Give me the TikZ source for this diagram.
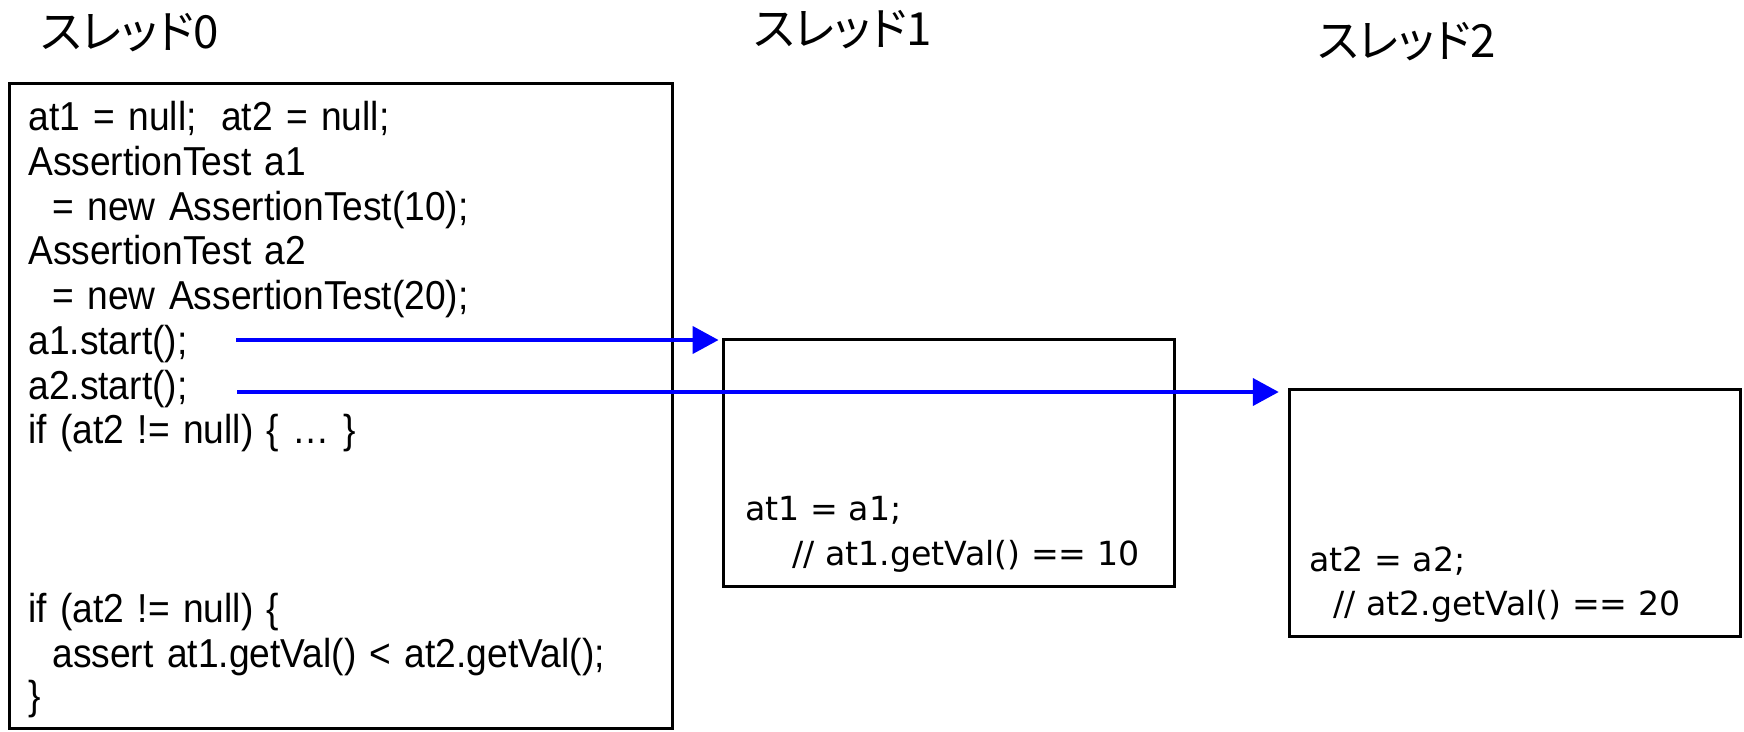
\documentclass[tikz,border=0pt]{standalone}
\usepackage{fontspec}
\setmainfont{Liberation Sans}
\newfontfamily\codefont[FakeStretch=0.92, WordSpace=1.3]{Liberation Sans}
\newfontfamily\widefont{DejaVu Sans}
\newfontfamily\jpfont[RawFeature=+palt]{Noto Sans CJK JP}
\usetikzlibrary{arrows.meta,positioning}
\definecolor{callblue}{RGB}{0,0,255}

\begin{document}
\begin{tikzpicture}[
    x=0.02cm, y=-0.02cm,
    threadbox/.style={rectangle, draw=black, line width=1.7pt, inner sep=0pt},
    title/.style={font=\jpfont\fontsize{26}{30}\selectfont, anchor=west, inner sep=0pt},
    codeline/.style={font=\codefont\fontsize{23}{27}\selectfont, anchor=base west, inner sep=0pt},
    workline/.style={font=\widefont\fontsize{18.9}{22}\selectfont, anchor=base west, inner sep=0pt},
    callarrow/.style={-{Triangle[length=14.8pt, width=15.4pt]}, line width=2.3pt, color=callblue}
]
\useasboundingbox (0,0) rectangle (1744,731);

% Thread titles
\node[title] (title0) at (40,33) {スレッド0};
\node[title] (title1) at (753,30) {スレッド1};
\node[title] (title2) at (1317,42) {スレッド2};

% Thread boxes
\node[threadbox, minimum width=13.28cm, minimum height=12.92cm] (box0) at (341,406) {};
\node[threadbox, minimum width=9.04cm, minimum height=4.96cm] (box1) at (949,463) {};
\node[threadbox, minimum width=9.04cm, minimum height=4.96cm] (box2) at (1515,513) {};

% Main thread code
\foreach \i/\dx/\y/\txt in {1/0/130/{at1 = null;\hspace{0.6em}at2 = null;},
                            2/0/175/{AssertionTest a1},
                            3/24/220/{= new AssertionTest(10);},
                            4/0/264/{AssertionTest a2},
                            5/24/309/{= new AssertionTest(20);},
                            6/0/354/{a1.start();},
                            7/0/399/{a2.start();},
                            8/0/443/{if (at2 != null) \{ … \}},
                            9/0/622/{if (at2 != null) \{},
                            10/24/667/{assert at1.getVal() < at2.getVal();},
                            11/0/709/{\}}}
  \node[codeline] (code\i) at (28+\dx, \y) {\txt};

% Worker thread code
\node[workline] (work1a) at (745,520) {at1 = a1;};
\node[workline] (work1b) at (792,565) {// at1.getVal() == 10};
\node[workline] (work2a) at (1309,571) {at2 = a2;};
\node[workline] (work2b) at (1333,615) {// at2.getVal() == 20};

% Thread starts
\coordinate (call1) at (236,340);
\coordinate (call2) at (237,392);
\draw[callarrow, shorten >=1.7pt] (call1) -- (call1 -| box1.west);
\draw[callarrow, shorten >=5pt] (call2) -- (call2 -| box2.west);
\end{tikzpicture}
\end{document}
